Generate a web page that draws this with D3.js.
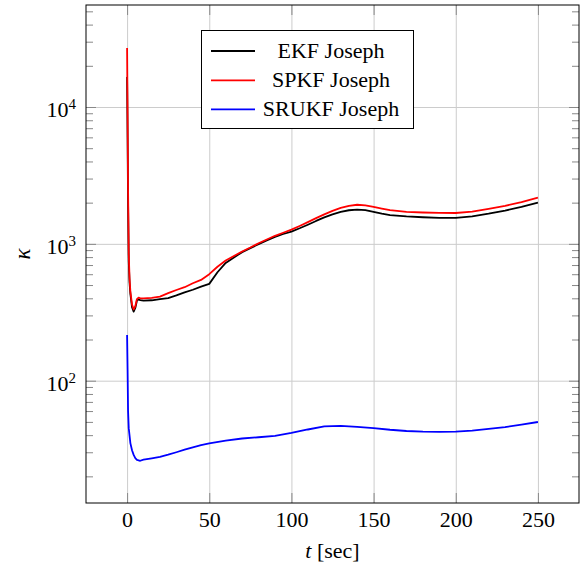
<!DOCTYPE html>
<html><head><meta charset="utf-8">
<script src="https://cdn.jsdelivr.net/npm/d3@7"></script>
<style>
body{margin:0;background:#fff}
svg{display:block}
text{font-family:"Liberation Serif","Times New Roman",Times,serif;fill:#000}
</style>
</head><body>
<svg id="chart" width="580" height="572"></svg>
<script>
// ---- data ----
const timeKF = [0,0.3,0.6,1,1.5,2,3,4,5,6,7,8,10,15,20,25,30,35,40,45,50,55,60,65,70,75,80,85,90,95,100,105,110,115,120,125,130,135,140,145,150,155,160,170,180,190,200,210,220,230,240,250];
const ekfJoseph = [16600,6000,2000,750,520,430,345,320,340,385,392,388,385,387,395,401,420,442,462,487,510,620,725,795,870,930,995,1060,1125,1180,1230,1300,1380,1470,1560,1640,1710,1760,1780,1765,1710,1660,1620,1585,1565,1550,1550,1590,1660,1750,1860,2000];
const spkfJoseph = [27000,9000,2500,850,560,450,360,332,350,395,405,400,400,403,412,436,460,482,515,545,600,680,755,815,880,940,1010,1075,1145,1205,1270,1350,1440,1540,1640,1740,1830,1895,1930,1910,1860,1810,1765,1715,1695,1682,1680,1720,1800,1895,2020,2180];
const timeSR = [0,0.3,0.6,1,2,3,4,5,6,8,10,15,20,25,30,35,40,45,50,60,70,80,90,100,110,120,130,140,150,160,170,180,190,200,210,220,230,240,250];
const srukfJoseph = [216,120,60,45,35,31,28.7,27.2,26.4,26,26.5,27.1,27.8,28.8,30,31.3,32.6,33.8,34.8,36.5,37.8,38.6,39.5,41.5,44,46.3,46.8,46,45,43.8,42.9,42.4,42.3,42.5,43.2,44.4,45.8,47.7,49.9];
const seriesNames = ["EKF Joseph","SPKF Joseph","SRUKF Joseph"];
const seriesColors = ["#000000","#ff0000","#0000ff"];
const xTickValues = [0,50,100,150,200,250];
const yMajorTicks = [100,1000,10000];
const yExponents = ["2","3","4"];
const xLabel = "t";
const xUnit = " [sec]";
const yLabel = "κ";

// ---- layout ----
const W = 580, H = 572;
const L = 86, R = 579, T = 5, B = 503;
const FS = 22;
const xDomain = [-25, 275];
const yDomain = [Math.pow(10,1.1063), Math.pow(10,4.7453)];

const svg = d3.select("#chart");
const x = d3.scaleLinear().domain(xDomain).range([L, R]);
const y = d3.scaleLog().domain(yDomain).range([B, T]);

// minor ticks
const yMinor = [];
[10,100,1000,10000].forEach(d => { for (let k=2;k<=9;k++){ const v=d*k; if (v>=yDomain[0] && v<=yDomain[1]) yMinor.push(v);} });

const gridColor = "#cccccc", tickColor = "#888888";

// grid
svg.append("g").attr("transform",`translate(0,${B})`)
  .call(d3.axisBottom(x).tickValues(xTickValues).tickSize(-(B-T)).tickFormat(""))
  .call(g=>{g.select(".domain").remove(); g.selectAll("line").attr("stroke",gridColor);});
svg.append("g").attr("transform",`translate(${L},0)`)
  .call(d3.axisLeft(y).tickValues(yMajorTicks).tickSize(-(R-L)).tickFormat(""))
  .call(g=>{g.select(".domain").remove(); g.selectAll("line").attr("stroke",gridColor);});

// tick marks (inward)
function styleTicks(g){ g.select(".domain").remove(); g.selectAll("line").attr("stroke",tickColor); }
svg.append("g").attr("transform",`translate(0,${B})`)
  .call(d3.axisBottom(x).tickValues(xTickValues).tickSizeInner(-10).tickSizeOuter(0).tickPadding(8).tickFormat(d3.format("d")))
  .call(styleTicks)
  .call(g=>g.selectAll("text").attr("font-size",FS).attr("font-family","Liberation Serif").attr("fill","#000"));
svg.append("g").attr("transform",`translate(0,${T})`)
  .call(d3.axisTop(x).tickValues(xTickValues).tickSizeInner(-10).tickSizeOuter(0).tickFormat(""))
  .call(styleTicks);
svg.append("g").attr("transform",`translate(${L},0)`)
  .call(d3.axisLeft(y).tickValues(yMajorTicks).tickSizeInner(-10).tickSizeOuter(0).tickFormat(""))
  .call(styleTicks);
svg.append("g").attr("transform",`translate(${L},0)`)
  .call(d3.axisLeft(y).tickValues(yMinor).tickSizeInner(-7).tickSizeOuter(0).tickFormat(""))
  .call(styleTicks);
svg.append("g").attr("transform",`translate(${R},0)`)
  .call(d3.axisRight(y).tickValues(yMajorTicks).tickSizeInner(-10).tickSizeOuter(0).tickFormat(""))
  .call(styleTicks);
svg.append("g").attr("transform",`translate(${R},0)`)
  .call(d3.axisRight(y).tickValues(yMinor).tickSizeInner(-7).tickSizeOuter(0).tickFormat(""))
  .call(styleTicks);

// y tick labels with superscripts
yMajorTicks.forEach((v,i)=>{
  const t = svg.append("text").attr("x", L-10).attr("y", y(v)+10)
    .attr("text-anchor","end").attr("font-size",FS);
  t.append("tspan").text("10");
  t.append("tspan").attr("font-size",15).attr("dy",-8).text(yExponents[i]);
});

// data lines
svg.append("clipPath").attr("id","clip").append("rect").attr("x",L).attr("y",T).attr("width",R-L).attr("height",B-T);
const line = d3.line().x(d=>x(d[0])).y(d=>y(d[1]));
const seriesData = [
  d3.zip(timeKF, ekfJoseph),
  d3.zip(timeKF, spkfJoseph),
  d3.zip(timeSR, srukfJoseph)
];
seriesData.forEach((data,i)=>{
  svg.append("path").datum(data).attr("d",line).attr("fill","none")
    .attr("stroke",seriesColors[i]).attr("stroke-width",1.8)
    .attr("stroke-linejoin","round").attr("clip-path","url(#clip)");
});

// frame
svg.append("rect").attr("x",L).attr("y",T).attr("width",R-L).attr("height",B-T)
  .attr("fill","none").attr("stroke","#000").attr("stroke-width",1);

// legend
const lg = svg.append("g");
lg.append("rect").attr("x",201.5).attr("y",30.5).attr("width",212).attr("height",98)
  .attr("fill","#fff").attr("stroke","#000").attr("stroke-width",1);
const rowY = [51,80.3,109.3];
seriesNames.forEach((n,i)=>{
  lg.append("line").attr("x1",211).attr("x2",255).attr("y1",rowY[i]).attr("y2",rowY[i])
    .attr("stroke",seriesColors[i]).attr("stroke-width",1.8);
  lg.append("text").attr("x",331).attr("y",rowY[i]+6.5).attr("text-anchor","middle")
    .attr("font-size",FS).text(n);
});

// axis labels
const xl = svg.append("text").attr("x",(L+R)/2).attr("y",558).attr("text-anchor","middle").attr("font-size",FS);
xl.append("tspan").attr("font-style","italic").text(xLabel);
xl.append("tspan").text(xUnit);
svg.append("text").attr("transform",`translate(30,${(T+B)/2}) rotate(-90)`)
  .attr("text-anchor","middle").attr("font-size",23).attr("font-style","italic").text(yLabel);
</script>
</body></html>
